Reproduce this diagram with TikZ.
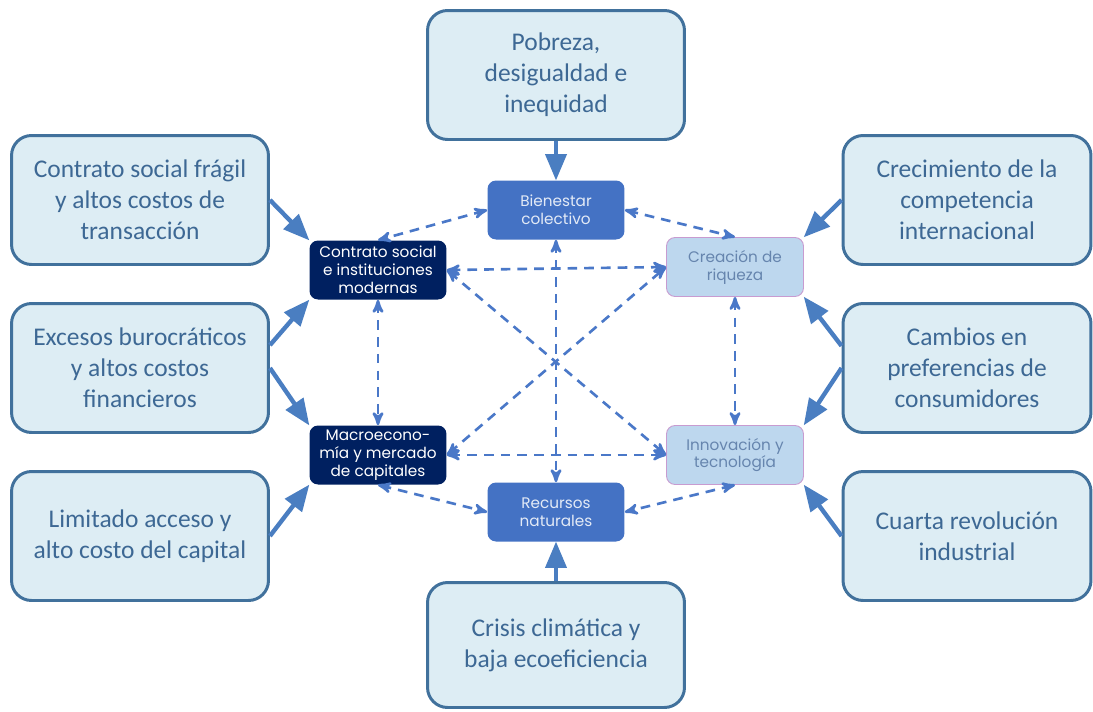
\documentclass[tikz,border=0pt]{standalone}
\usepackage{fontspec}
\setmainfont{Carlito}
\newfontfamily\gothic{Poppins}
\usepackage{tikz}
\usetikzlibrary{arrows}
\definecolor{boxedge}{HTML}{41719C}
\definecolor{boxfill}{HTML}{DDEDF4}
\definecolor{boxtext}{HTML}{3D6894}
\definecolor{navy}{HTML}{002060}
\definecolor{midblue}{HTML}{4472C4}
\definecolor{paleblue}{HTML}{BDD7EE}
\definecolor{paleedge}{HTML}{C89BD0}
\definecolor{paletext}{HTML}{6685AE}
\definecolor{pushblue}{HTML}{4A7EC1}
\definecolor{dashblue}{HTML}{4A78C8}
\tikzset{>=stealth', semithick,
  cause/.style={draw=boxedge, fill=boxfill, line width=1.7pt, rounded corners=0.4cm,
    minimum width=5.14cm, minimum height=2.58cm, align=center, text=boxtext,
    font=\fontsize{14.5}{17.6}\selectfont},
  core/.style={rounded corners=0.17cm, minimum width=2.74cm, minimum height=1.18cm,
    align=center, inner sep=1pt, font=\gothic\fontsize{8.7}{10.2}\selectfont},
  darkcore/.style={core, fill=navy, text=white},
  midcore/.style={core, fill=midblue, text=white!85!midblue},
  palecore/.style={core, fill=paleblue, draw=paleedge, line width=0.5pt, text=paletext},
  push/.style={-triangle 45, draw=pushblue, line width=2.5pt},
  link/.style={<->, draw=dashblue, line width=1.5pt, dash pattern=on 5.5pt off 4pt}}

\begin{document}
\begin{tikzpicture}[x=0.02cm, y=0.02cm]
\useasboundingbox (0,0) rectangle (1093,-711);
% outer causes
\node [cause] (pob) at (556,-75) {Pobreza,\\desigualdad e\\inequidad};
\node [cause] (csf) at (140,-200) {Contrato social frágil\\y altos costos de\\transacción};
\node [cause] (exc) at (140,-368) {Excesos burocráticos\\y altos costos\\financieros};
\node [cause] (lim) at (140,-536) {Limitado acceso y\\alto costo del capital};
\node [cause, minimum width=4.96cm] (crec) at (967,-200) {Crecimiento de la\\competencia\\internacional};
\node [cause, minimum width=4.96cm] (camb) at (967,-368) {Cambios en\\preferencias de\\consumidores};
\node [cause, minimum width=4.96cm] (cuar) at (967,-536) {Cuarta revolución\\industrial};
\node [cause, minimum height=2.5cm] (cris) at (556,-645) {Crisis climática y\\baja ecoeficiencia};
% inner system
\node [midcore] (bien) at (556,-210) {Bienestar\\colectivo};
\node [darkcore] (cont) at (378,-270) {Contrato social\\e instituciones\\modernas};
\node [darkcore] (macro) at (378,-455) {Macroecono-\\mía y mercado\\de capitales};
\node [midcore] (rec) at (556,-512) {Recursos\\naturales};
\node [palecore] (crea) at (735,-267) {Creación de\\riqueza};
\node [palecore] (inno) at (735,-455) {Innovación y\\tecnología};
% pressures
\draw [push] (pob) -- (bien);
\draw [push] (cris) -- (rec);
\draw [push] (csf.east) -- (cont.north west);
\draw [push] (exc.10) -- (cont.south west);
\draw [push] (exc.east) -- (macro.north west);
\draw [push] (lim.east) -- (macro.south west);
\draw [push] (crec.west) -- (crea.north east);
\draw [push] (camb.170) -- (crea.south east);
\draw [push] (camb.west) -- (inno.north east);
\draw [push] (cuar.west) -- (inno.south east);
% links
\draw [link] (bien.west) -- (cont.north);
\draw [link] (bien.east) -- (crea.north);
\draw [link] (cont.east) -- (crea.west);
\draw [link] (cont.east) -- (inno.west);
\draw [link] (macro.east) -- (crea.west);
\draw [link] (macro.east) -- (inno.west);
\draw [link] (cont.south) -- (macro.north);
\draw [link] (crea.south) -- (inno.north);
\draw [link] (bien.south) -- (rec.north);
\draw [link] (macro.south) -- (rec.west);
\draw [link] (inno.south) -- (rec.east);
\end{tikzpicture}
\end{document}
